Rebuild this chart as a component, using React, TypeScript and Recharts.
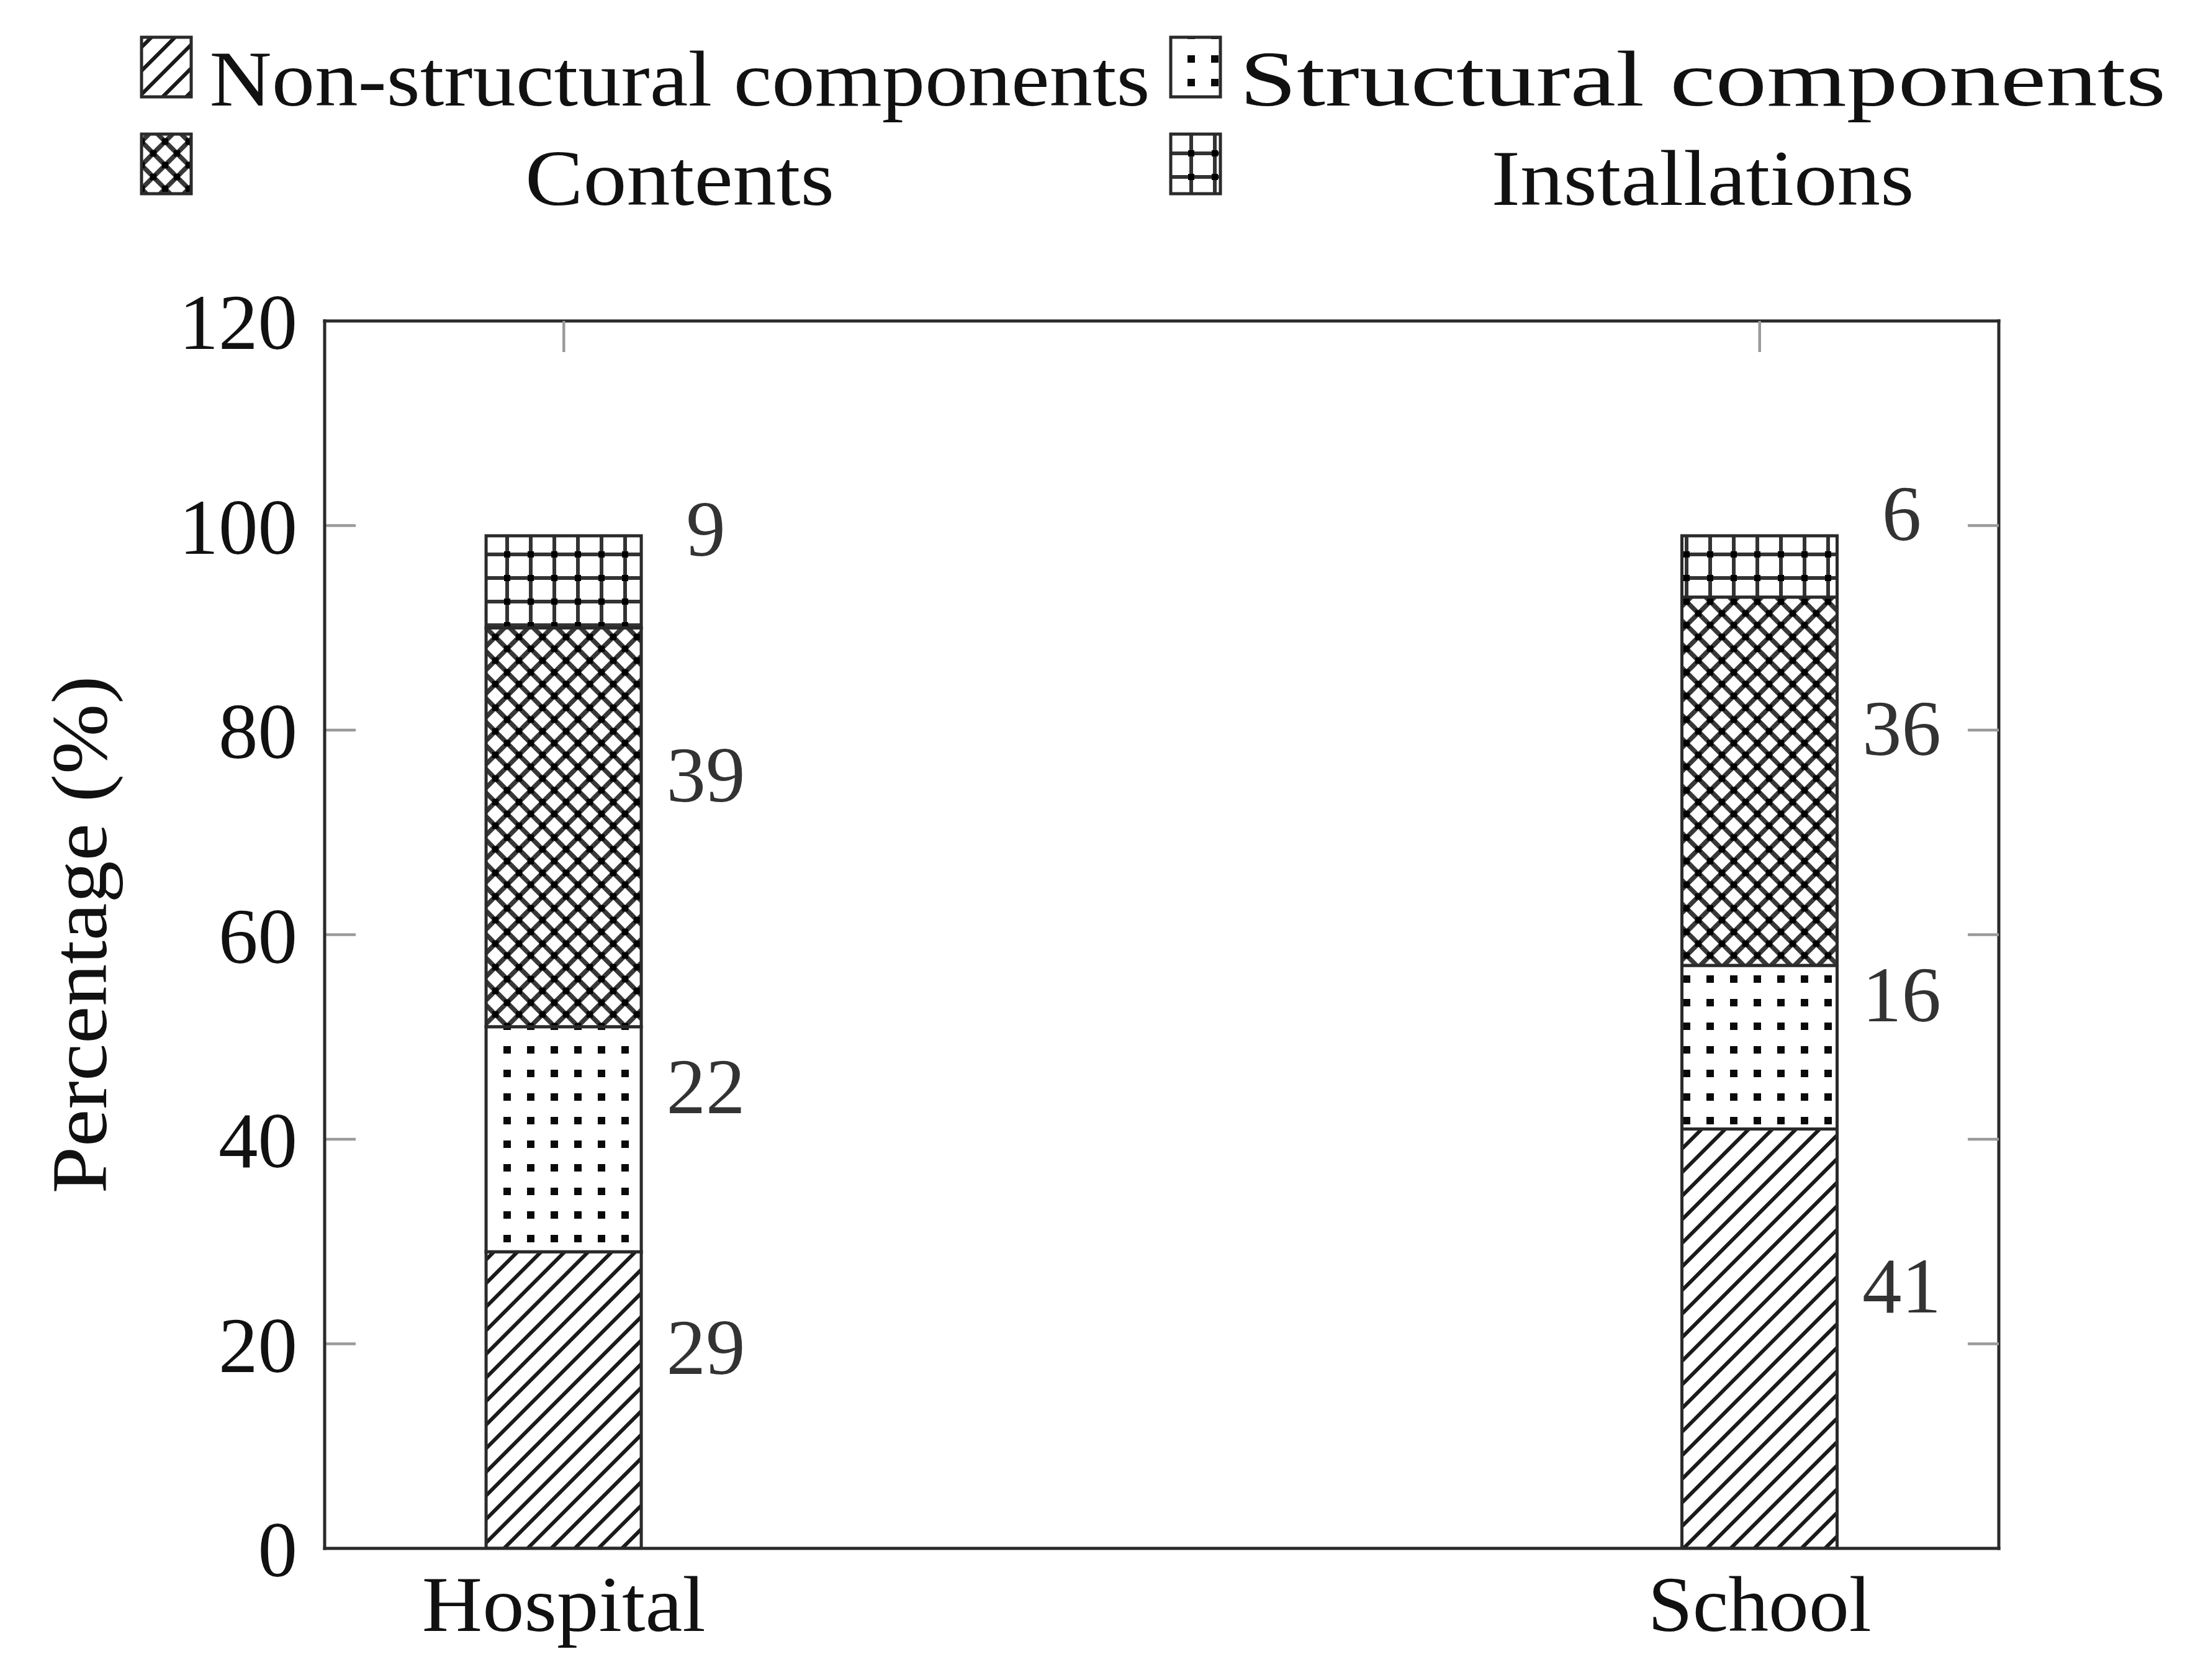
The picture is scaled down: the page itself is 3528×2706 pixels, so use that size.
import { Bar, BarChart, LabelList, Legend, ReferenceLine, XAxis, YAxis } from "recharts";

const categories = ["Hospital", "School"];
const nonStructural = [29, 41];
const structural = [22, 16];
const contents = [39, 36];
const installations = [9, 6];
const yTicks = [0, 20, 40, 60, 80, 100, 120];
const innerTicks = [20, 40, 60, 80, 100];
const xDomain = [-0.2, 1.2];

const FONT = "'Liberation Serif', 'Times New Roman', serif";
const INK = "#2a2a2a";
const TICK = "#9a9a9a";
const FS = 127;
const TICK_GAP = 44;
const TICK_LEN = 50;
const CHART_W = 3528;
const CHART_H = 2706;
const MARGIN = { top: 517, right: 308, bottom: 0, left: 0 };
const Y_AXIS_W = 523;
const PLOT_W = CHART_W - MARGIN.right - Y_AXIS_W;
// tick length on the left frame, in x-axis units
const tickSpan = ((xDomain[1] - xDomain[0]) * TICK_LEN) / PLOT_W;

const data = categories.map((name, i) => ({
  pos: i,
  name,
  nonStructural: nonStructural[i],
  structural: structural[i],
  contents: contents[i],
  installations: installations[i],
}));

const series = [
  { key: "nonStructural", name: "Non-structural components", fill: "url(#pHatch)" },
  { key: "structural", name: "Structural components", fill: "url(#pDots)" },
  { key: "contents", name: "Contents", fill: "url(#pCross)" },
  { key: "installations", name: "Installations", fill: "url(#pGrid)" },
];

// widths the serif text takes in the original (it is set in a wider font)
const legendTextLength = [1515, 1492, 498, 681];
const categoryTextLength = [457, 360];

const frame = { stroke: INK, strokeWidth: 5, strokeLinecap: "square" as const };
const tickLine = { stroke: TICK, strokeWidth: 4.5 };
const noLabel = () => "";

function Patterns() {
  return (
    <svg width={0} height={0} style={{ position: "absolute" }}>
      <defs>
        <pattern id="pHatch" width={38} height={38} patternUnits="userSpaceOnUse">
          <rect width={38} height={38} fill="#fff" />
          <path d="M-9.5,9.5 L9.5,-9.5 M0,38 L38,0 M28.5,47.5 L47.5,28.5" stroke="#1a1a1a" strokeWidth={6} />
        </pattern>
        <pattern id="pDots" width={38} height={38} patternUnits="userSpaceOnUse">
          <rect width={38} height={38} fill="#fff" />
          <rect x={13} y={13} width={12} height={12} fill="#0a0a0a" />
        </pattern>
        <pattern id="pCross" width={38} height={38} patternUnits="userSpaceOnUse">
          <rect width={38} height={38} fill="#fff" />
          <path d="M-4,-4 L42,42 M-4,42 L42,-4" stroke="#383838" strokeWidth={7.5} />
          <rect x={14} y={14} width={10} height={10} fill="#000" />
          <rect x={-5} y={-5} width={10} height={10} fill="#000" />
          <rect x={33} y={-5} width={10} height={10} fill="#000" />
          <rect x={-5} y={33} width={10} height={10} fill="#000" />
          <rect x={33} y={33} width={10} height={10} fill="#000" />
        </pattern>
        <pattern id="pGrid" width={38} height={38} patternUnits="userSpaceOnUse">
          <rect width={38} height={38} fill="#fff" />
          <path d="M0,19 H38 M19,0 V38" stroke="#333" strokeWidth={6} />
          <rect x={14} y={14} width={10} height={10} fill="#000" />
        </pattern>
      </defs>
    </svg>
  );
}

function LegendGrid({ payload }: { payload?: Array<{ value?: string; color?: string }> }) {
  const items = series.map((s) => {
    const hit = payload?.find((p) => p.value === s.name);
    return { value: s.name, color: hit?.color ?? s.fill };
  });
  const iconX = [228, 1886];
  const textX = [1095, 2743];
  const iconY = [60, 216];
  const baseY = [170, 330];

  return (
    <svg width={CHART_W} height={380} style={{ display: "block" }}>
      {items.map((entry, i) => {
        const col = i % 2;
        const row = Math.floor(i / 2);
        return (
          <g key={entry.value}>
            <rect x={iconX[col]} y={iconY[row]} width={80} height={96} fill={entry.color} stroke={INK} strokeWidth={5} />
            <text
              x={textX[col]}
              y={baseY[row]}
              textAnchor="middle"
              fontFamily={FONT}
              fontSize={FS}
              textLength={legendTextLength[i]}
              lengthAdjust="spacingAndGlyphs"
              fill="#111"
            >
              {entry.value}
            </text>
          </g>
        );
      })}
    </svg>
  );
}

function CategoryTick(props: any) {
  const { x, y, payload } = props;
  const i = Number(payload?.value);
  return (
    <text
      x={x}
      y={Number(y) + 90}
      textAnchor="middle"
      fontFamily={FONT}
      fontSize={FS}
      textLength={categoryTextLength[i]}
      lengthAdjust="spacingAndGlyphs"
      fill="#111"
    >
      {categories[i]}
    </text>
  );
}

function SegmentLabel(props: any) {
  const vb = props.viewBox ?? props;
  const x = Number(vb.x ?? props.x);
  const y = Number(vb.y ?? props.y);
  const w = Number(vb.width ?? props.width);
  const h = Number(vb.height ?? props.height);
  const top = h < 0 ? y + h : y;
  const cx = x + w + 104;
  const cy = top + Math.abs(h) / 2 - 85;
  return (
    <text x={cx} y={cy} textAnchor="middle" dominantBaseline="central" fontFamily={FONT} fontSize={FS} fill="#333">
      {props.value}
    </text>
  );
}

function YLabel(props: any) {
  const vb = props.viewBox;
  const cx = vb.x + 128;
  const cy = vb.y + vb.height / 2;
  return (
    <text
      x={cx}
      y={cy}
      transform={`rotate(-90 ${cx} ${cy})`}
      textAnchor="middle"
      dominantBaseline="central"
      fontFamily={FONT}
      fontSize={FS}
      textLength={834}
      lengthAdjust="spacingAndGlyphs"
      fill="#111"
    >
      Percentage (%)
    </text>
  );
}

export default function App() {
  return (
    <div style={{ position: "absolute", left: 0, top: 0, width: CHART_W, height: CHART_H, background: "#fff" }}>
      <Patterns />
      <BarChart width={CHART_W} height={CHART_H} data={data} barSize={250} margin={MARGIN}>
        <XAxis
          xAxisId="b"
          type="number"
          dataKey="pos"
          domain={xDomain}
          ticks={[0, 1]}
          interval={0}
          allowDataOverflow
          height={212}
          tickSize={0}
          tickMargin={43}
          tickLine={false}
          axisLine={frame}
          tick={<CategoryTick />}
        />
        <XAxis
          xAxisId="t"
          orientation="top"
          mirror
          type="number"
          dataKey="pos"
          domain={xDomain}
          ticks={[0, 1]}
          interval={0}
          allowDataOverflow
          height={1}
          tickFormatter={noLabel}
          tick={{ fontSize: 1, fill: "none" }}
          tickSize={TICK_LEN}
          tickLine={tickLine}
          axisLine={frame}
        />
        <YAxis
          yAxisId="l"
          type="number"
          domain={[0, 120]}
          ticks={yTicks}
          interval={0}
          allowDataOverflow
          width={Y_AXIS_W}
          tickSize={0}
          tickMargin={TICK_GAP}
          tickLine={false}
          axisLine={frame}
          tick={{ fontSize: FS, fontFamily: FONT, fill: "#111" }}
          label={{ content: YLabel }}
        />
        <YAxis
          yAxisId="r"
          type="number"
          orientation="right"
          mirror
          domain={[0, 120]}
          ticks={innerTicks}
          interval={0}
          allowDataOverflow
          width={1}
          tickFormatter={noLabel}
          tick={{ fontSize: 1, fill: "none" }}
          tickSize={TICK_LEN}
          tickLine={tickLine}
          axisLine={frame}
        />
        {innerTicks.map((v) => (
          <ReferenceLine
            key={`lt-${v}`}
            xAxisId="b"
            yAxisId="l"
            ifOverflow="visible"
            segment={[
              { x: xDomain[0], y: v },
              { x: xDomain[0] + tickSpan, y: v },
            ]}
            stroke={TICK}
            strokeWidth={4.5}
          />
        ))}
        <Legend
          content={<LegendGrid />}
          layout="horizontal"
          verticalAlign="middle"
          align="center"
          width={CHART_W}
          height={380}
          wrapperStyle={{ top: 0, left: 0, width: CHART_W, height: 380 }}
        />
        {series.map((s) => (
          <Bar
            key={s.key}
            xAxisId="b"
            yAxisId="l"
            dataKey={s.key}
            name={s.name}
            stackId="a"
            fill={s.fill}
            stroke={INK}
            strokeWidth={5}
            isAnimationActive={false}
          >
            <LabelList dataKey={s.key} content={SegmentLabel} />
          </Bar>
        ))}
      </BarChart>
    </div>
  );
}
